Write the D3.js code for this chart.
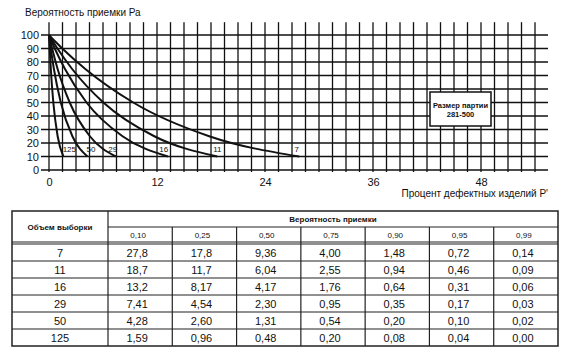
<!DOCTYPE html>
<html>
<head>
<meta charset="utf-8">
<script src="https://cdn.jsdelivr.net/npm/d3@7"></script>
<style>
  body { margin: 0; background: #fff; }
  svg { display: block; font-family: Arial, "Liberation Sans", sans-serif; }
</style>
</head>
<body>
<div id="chart"></div>
<script>
// sample sizes (curves / table rows) and acceptance probabilities (table columns)
const sampleSizes = [7, 11, 16, 29, 50, 125];
const acceptProbs = [0.10, 0.25, 0.50, 0.75, 0.90, 0.95, 0.99];

// percent defective for each sample size, in the order of acceptProbs
const pct7 = [27.8, 17.8, 9.36, 4.00, 1.48, 0.72, 0.14];
const pct11 = [18.7, 11.7, 6.04, 2.55, 0.94, 0.46, 0.09];
const pct16 = [13.2, 8.17, 4.17, 1.76, 0.64, 0.31, 0.06];
const pct29 = [7.41, 4.54, 2.30, 0.95, 0.35, 0.17, 0.03];
const pct50 = [4.28, 2.60, 1.31, 0.54, 0.20, 0.10, 0.02];
const pct125 = [1.59, 0.96, 0.48, 0.20, 0.08, 0.04, 0.00];
const pctRows = [pct7, pct11, pct16, pct29, pct50, pct125];

const xTicks = [0, 12, 24, 36, 48];
const yTicks = [0, 10, 20, 30, 40, 50, 60, 70, 80, 90, 100];

const W = 573, H = 354;
const svg = d3.select("#chart").append("svg").attr("width", W).attr("height", H);

// ---------- chart ----------
const x = d3.scaleLinear().domain([0, 54]).range([49, 535]);
const y = d3.scaleLinear().domain([0, 100]).range([170, 35]);
const ink = "#111";

const grid = svg.append("g").attr("stroke", ink).attr("stroke-width", 1.3);
grid.selectAll(".v")
  .data(d3.range(0, 54.01, 1.5))
  .enter().append("line")
  .attr("x1", d => x(d)).attr("x2", d => x(d))
  .attr("y1", y(109.5)).attr("y2", y(0) + 2);
grid.selectAll(".h")
  .data(yTicks)
  .enter().append("line")
  .attr("x1", 41).attr("x2", 548)
  .attr("y1", d => y(d)).attr("y2", d => y(d));

// tick labels through d3 axes (no lines)
svg.append("g")
  .attr("transform", `translate(${x(0) - 10},0)`)
  .call(d3.axisLeft(y).tickValues(yTicks).tickSize(0).tickPadding(0))
  .call(g => g.select(".domain").remove())
  .selectAll("text").attr("font-size", 11).attr("fill", ink)
  .attr("font-family", "Arial, 'Liberation Sans', sans-serif");

svg.append("g")
  .attr("transform", `translate(0,${y(0) + 8})`)
  .call(d3.axisBottom(x).tickValues(xTicks).tickSize(0).tickPadding(0))
  .call(g => g.select(".domain").remove())
  .selectAll("text").attr("font-size", 11).attr("fill", ink)
  .attr("font-family", "Arial, 'Liberation Sans', sans-serif");

svg.append("text")
  .attr("x", 25).attr("y", 16)
  .attr("font-size", 10).attr("fill", ink)
  .text("Вероятность приемки Ра");

svg.append("text")
  .attr("x", 548).attr("y", 197)
  .attr("text-anchor", "end")
  .attr("font-size", 10).attr("fill", ink)
  .text("Процент дефектных изделий Р'");

// OC curves
const line = d3.line()
  .x(d => x(d[0])).y(d => y(d[1]))
  .curve(d3.curveMonotoneX);

const curveData = pctRows.map((row, i) => {
  let pts = row.map((p, j) => [p, acceptProbs[j] * 100]).sort((a, b) => a[0] - b[0]);
  if (pts[0][0] > 0) pts.unshift([0, 100]);
  return { n: sampleSizes[i], pts };
});

svg.append("g")
  .selectAll("path")
  .data(curveData)
  .enter().append("path")
  .attr("d", d => line(d.pts))
  .attr("fill", "none")
  .attr("stroke", ink)
  .attr("stroke-width", 2);

// curve labels near end of each curve
const labelDx = [-2.5, 0, -4, -3, 3.5, 6];
svg.append("g")
  .selectAll("text")
  .data(curveData)
  .enter().append("text")
  .attr("x", (d, i) => x(d.pts[d.pts.length - 1][0]) + labelDx[i])
  .attr("y", y(13))
  .attr("text-anchor", "middle")
  .attr("font-size", 8)
  .attr("fill", ink)
  .text(d => d.n);

// lot size box
const box = svg.append("g");
box.append("rect")
  .attr("x", 430).attr("y", 92).attr("width", 61).attr("height", 34)
  .attr("fill", "#fff").attr("stroke", ink).attr("stroke-width", 1.5);
box.append("text").attr("x", 460.5).attr("y", 108)
  .attr("text-anchor", "middle").attr("font-size", 7.5).attr("font-weight", "bold").attr("fill", ink)
  .text("Размер партии");
box.append("text").attr("x", 460.5).attr("y", 117)
  .attr("text-anchor", "middle").attr("font-size", 7.5).attr("font-weight", "bold").attr("fill", ink)
  .text("281-500");

// ---------- table ----------
const tL = 12, tR = 558, tC = 108, tTop = 211, tMid = 227, tHdr = 242, tBody = 244, tBot = 346;
const col = d3.scaleBand().domain(acceptProbs).range([tC, tR]);
const row = d3.scaleBand().domain(sampleSizes).range([tBody, tBot]);
const fmt = v => (v >= 10 ? v.toFixed(1) : v.toFixed(2)).replace(".", ",");

const tbl = svg.append("g").attr("stroke", "#222").attr("stroke-width", 1.2).attr("fill", "none");
tbl.append("rect").attr("x", tL).attr("y", tTop).attr("width", tR - tL).attr("height", tBot - tTop)
  .attr("stroke-width", 1.5);
tbl.append("line").attr("x1", tC).attr("x2", tC).attr("y1", tTop).attr("y2", tBot);
tbl.append("line").attr("x1", tC).attr("x2", tR).attr("y1", tMid).attr("y2", tMid);
tbl.append("line").attr("x1", tL).attr("x2", tR).attr("y1", tHdr).attr("y2", tHdr);
tbl.append("line").attr("x1", tL).attr("x2", tR).attr("y1", tBody).attr("y2", tBody);
tbl.selectAll(".cv")
  .data(acceptProbs.slice(1))
  .enter().append("line")
  .attr("x1", d => col(d)).attr("x2", d => col(d))
  .attr("y1", tMid).attr("y2", tBot);
tbl.selectAll(".rh")
  .data(sampleSizes.slice(1))
  .enter().append("line")
  .attr("x1", tL).attr("x2", tR)
  .attr("y1", d => row(d)).attr("y2", d => row(d));

const txt = svg.append("g").attr("fill", ink);
txt.append("text").attr("x", (tL + tC) / 2).attr("y", (tTop + tHdr) / 2 + 3)
  .attr("text-anchor", "middle").attr("font-size", 8).attr("font-weight", "bold")
  .text("Объем выборки");
txt.append("text").attr("x", (tC + tR) / 2).attr("y", (tTop + tMid) / 2 + 3)
  .attr("text-anchor", "middle").attr("font-size", 8).attr("font-weight", "bold")
  .text("Вероятность приемки");
txt.selectAll(".ph")
  .data(acceptProbs)
  .enter().append("text")
  .attr("x", d => col(d) + col.bandwidth() / 2 - 2)
  .attr("y", (tMid + tHdr) / 2 + 3)
  .attr("text-anchor", "middle").attr("font-size", 8)
  .text(d => d.toFixed(2).replace(".", ","));
txt.selectAll(".n")
  .data(sampleSizes)
  .enter().append("text")
  .attr("x", (tL + tC) / 2)
  .attr("y", d => row(d) + row.bandwidth() / 2 + 4)
  .attr("text-anchor", "middle").attr("font-size", 11)
  .text(d => d);
pctRows.forEach((vals, i) => {
  txt.append("g").selectAll("text")
    .data(vals)
    .enter().append("text")
    .attr("x", (d, j) => col(acceptProbs[j]) + col.bandwidth() / 2 - 3)
    .attr("y", row(sampleSizes[i]) + row.bandwidth() / 2 + 4)
    .attr("text-anchor", "middle").attr("font-size", 11)
    .text(d => fmt(d));
});
</script>
</body>
</html>
